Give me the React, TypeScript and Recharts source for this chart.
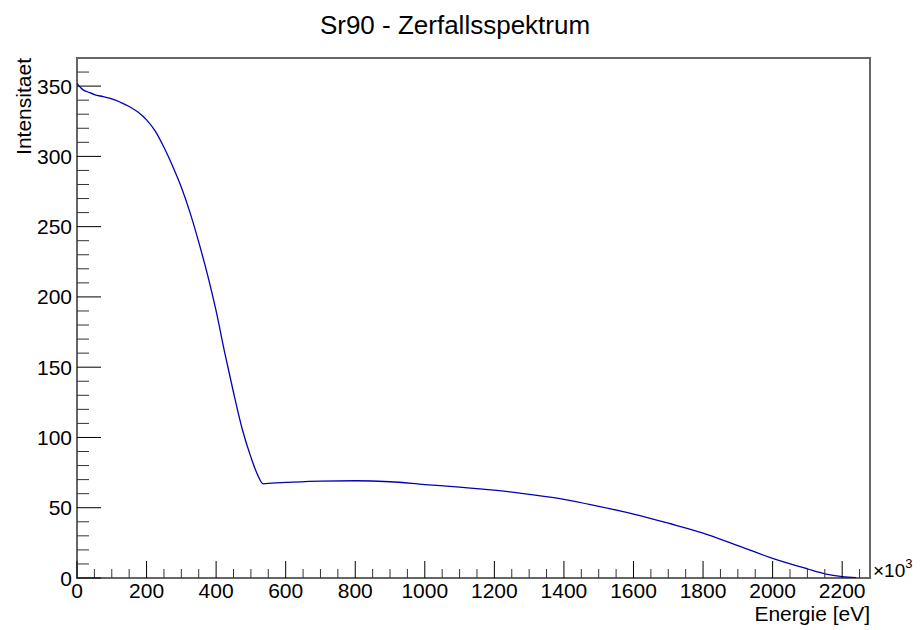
import { LineChart, Line, XAxis, YAxis, ReferenceArea } from "recharts";

// Sr90 beta spectrum (energy in keV, i.e. eV x10^3)
const energy = [
  0, 10, 20, 30, 50, 75, 100, 125, 150, 175, 200, 225, 250, 275, 300, 325, 350,
  375, 400, 425, 450, 475, 500, 520, 535, 560, 600, 700, 800, 900, 1000, 1100,
  1200, 1300, 1400, 1500, 1600, 1700, 1800, 1900, 2000, 2100, 2150, 2200, 2240,
];
const intensity = [
  352, 349, 347, 346, 344, 342.5, 341, 338.5, 335.5, 331.5, 326, 318, 306.5,
  293, 278, 260, 239, 216, 190, 160, 132, 106, 86, 73, 67, 67.5, 68, 69, 69.2,
  68.5, 66.5, 64.7, 62.5, 59.5, 56, 51, 45.5, 39, 32, 23, 14, 6.5, 3, 1, 0.3,
];

const xMajor = [0, 200, 400, 600, 800, 1000, 1200, 1400, 1600, 1800, 2000, 2200];
const yMajor = [0, 50, 100, 150, 200, 250, 300, 350];

const X_MAX = 2280;
const Y_MAX = 370;
const FONT = "'Liberation Sans', Arial, Helvetica, sans-serif";

const data = energy.map((e, i) => ({ e, v: intensity[i] }));

const xTicks: number[] = [];
for (let t = 0; t <= 2250; t += 50) xTicks.push(t);
const yTicks: number[] = [];
for (let t = 0; t <= 360; t += 10) yTicks.push(t);

function XTick(props: any) {
  const { x, y, payload } = props;
  const major = xMajor.includes(payload.value);
  return (
    <g>
      <line x1={x} x2={x} y1={y} y2={y - (major ? 17 : 9)} stroke={major ? "#000" : "#333"} strokeWidth={1} />
      {major && (
        <text x={x} y={y + 20} textAnchor="middle" fontSize={21} fontFamily={FONT} fill="#000">
          {payload.value}
        </text>
      )}
    </g>
  );
}

function YTick(props: any) {
  const { x, y, payload } = props;
  const major = yMajor.includes(payload.value);
  return (
    <g>
      <line x1={x} x2={x + (major ? 24 : 12)} y1={y} y2={y} stroke={major ? "#000" : "#333"} strokeWidth={1} />
      {major && (
        <text x={x - 5} y={y + 7.5} textAnchor="end" fontSize={21} fontFamily={FONT} fill="#000">
          {payload.value}
        </text>
      )}
    </g>
  );
}

function XLabel(props: any) {
  const vb = props.viewBox || {};
  const right = vb.x + vb.width;
  return (
    <g fontFamily={FONT} fill="#000">
      <text x={right} y={621} textAnchor="end" fontSize={21}>
        Energie [eV]
      </text>
      <text x={right + 3} y={577} fontSize={19}>
        ×10
        <tspan dy={-9} fontSize={13}>3</tspan>
      </text>
    </g>
  );
}

function YLabel(props: any) {
  const vb = props.viewBox || {};
  const top = vb.y;
  return (
    <text
      x={31}
      y={top}
      transform={`rotate(-90, 31, ${top})`}
      textAnchor="end"
      fontSize={21}
      fontFamily={FONT}
      fill="#000"
    >
      Intensitaet
    </text>
  );
}

export default function App() {
  return (
    <div style={{ position: "relative", width: 920, height: 630, background: "#fff" }}>
      <style>{`body{margin:0}`}</style>
      <div
        style={{
          position: "absolute",
          top: 12,
          left: 0,
          width: 910,
          textAlign: "center",
          fontFamily: FONT,
          fontSize: 26,
          lineHeight: "26px",
          color: "#000",
        }}
      >
        Sr90 - Zerfallsspektrum
      </div>
      <LineChart
        width={920}
        height={630}
        data={data}
        margin={{ top: 58, right: 50, left: 0, bottom: 0 }}
      >
        <XAxis
          dataKey="e"
          type="number"
          domain={[0, X_MAX]}
          ticks={xTicks}
          interval={0}
          allowDataOverflow
          height={52}
          axisLine={false}
          tickLine={false}
          tickSize={0}
          tickMargin={0}
          tick={<XTick />}
          label={<XLabel />}
        />
        <YAxis
          type="number"
          domain={[0, Y_MAX]}
          ticks={yTicks}
          interval={0}
          allowDataOverflow
          width={77}
          axisLine={false}
          tickLine={false}
          tickSize={0}
          tickMargin={0}
          tick={<YTick />}
          label={<YLabel />}
        />
        <ReferenceArea
          x1={0}
          x2={X_MAX}
          y1={0}
          y2={Y_MAX}
          fill="none"
          fillOpacity={0}
          stroke="#666"
          strokeWidth={2}
          ifOverflow="extendDomain"
        />
        <Line
          type="monotone"
          dataKey="v"
          stroke="#0000b4"
          strokeWidth={1.3}
          dot={false}
          isAnimationActive={false}
        />
      </LineChart>
    </div>
  );
}
